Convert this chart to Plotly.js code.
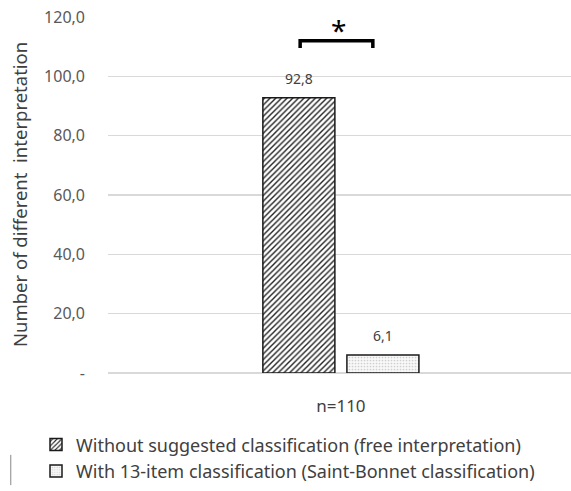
<!DOCTYPE html>
<html><head><meta charset="utf-8">
<script src="https://cdn.plot.ly/plotly-3.0.1.min.js"></script>
<style>body{margin:0;background:#fff}#c{width:571px;height:491px}</style>
</head><body><div id="c"></div>
<script>
const categories = ['n=110'];
const seriesNames = ['Without suggested classification (free interpretation)', 'With 13-item classification (Saint-Bonnet classification)'];
const freeValues = [92.8];
const classifiedValues = [6.1];
const yTickValues = [0, 20, 40, 60, 80, 100, 120];
const yTickLabels = ['-', '20,0', '40,0', '60,0', '80,0', '100,0', '120,0'];
const fmt = v => v.toFixed(1).replace('.', ',');
const font = 'Noto Sans, Open Sans, sans-serif';
const bargap = 0.637;
const slot = (1 - bargap) / 2;
const traces = [
  {type:'bar', name:seriesNames[0], x:categories, y:freeValues,
   marker:{color:'#ffffff', line:{color:'#1a1a1a', width:1.5},
     pattern:{shape:'/', fgcolor:'#222222', bgcolor:'#ffffff', size:4, solidity:0.35}}},
  {type:'bar', name:seriesNames[1], x:categories, y:classifiedValues,
   marker:{color:'#ffffff', line:{color:'#1a1a1a', width:1.5},
     pattern:{shape:'.', fgcolor:'#cfcfcf', bgcolor:'#f8f8f8', size:3, solidity:0.25}}}
];
const valueAnnotations = [];
[freeValues, classifiedValues].forEach((vals, s) => {
  vals.forEach((v, i) => {
    valueAnnotations.push({xref:'x', yref:'y', x: i + (s - 0.5) * slot, y: v, text: fmt(v),
      showarrow:false, yanchor:'bottom', yshift:8, font:{size:14, color:'#404040', family:font}});
  });
});
const layout = {
  width:571, height:491,
  margin:{l:108, r:0, t:17, b:118},
  paper_bgcolor:'#ffffff', plot_bgcolor:'#ffffff',
  font:{family:font, color:'#595959', size:13},
  barmode:'group', bargap:bargap, bargroupgap:0.143,
  showlegend:true,
  legend:{orientation:'v', x:-0.1555, y:-0.15, xanchor:'left', yanchor:'top',
    font:{size:18, color:'#404040'}, traceorder:'normal', itemwidth:30, tracegroupgap:0},
  xaxis:{type:'category', automargin:false, range:[-0.503, 0.497], showgrid:false, showline:false, ticks:'',
    tickfont:{size:17, color:'#404040'}, ticklabelstandoff:21},
  yaxis:{range:[0,120], automargin:false, tickvals:yTickValues, ticktext:yTickLabels, showgrid:true, gridcolor:'#d9d9d9', gridwidth:1.5,
    zeroline:true, zerolinecolor:'#d9d9d9', zerolinewidth:1.5, ticks:'', showline:false, ticklabelstandoff:22,
    tickfont:{size:16, color:'#595959'}},
  shapes:[
    {type:'path', xref:'paper', yref:'paper', path:'M 0.415 0.913 L 0.415 0.933 L 0.572 0.933 L 0.572 0.913',
     line:{color:'#000000', width:3.5}},
    {type:'line', xref:'paper', yref:'paper', x0:-0.21, x1:-0.21, y0:-0.23, y1:-0.315, line:{color:'#888', width:1}}
  ],
  annotations:[
    {xref:'paper', yref:'paper', x:0.497, y:0.904, text:'*', showarrow:false, yanchor:'bottom', xanchor:'center',
     font:{size:28, color:'#000000', family:font}},
    {xref:'paper', yref:'paper', x:-0.192, y:0.5, xanchor:'center', yanchor:'middle', text:'Number of different  interpretation', textangle:-90, showarrow:false,
     font:{size:18.5, color:'#404040', family:font}}
  ].concat(valueAnnotations)
};
Plotly.newPlot('c', traces, layout, {displayModeBar:false, staticPlot:true});
</script></body></html>
